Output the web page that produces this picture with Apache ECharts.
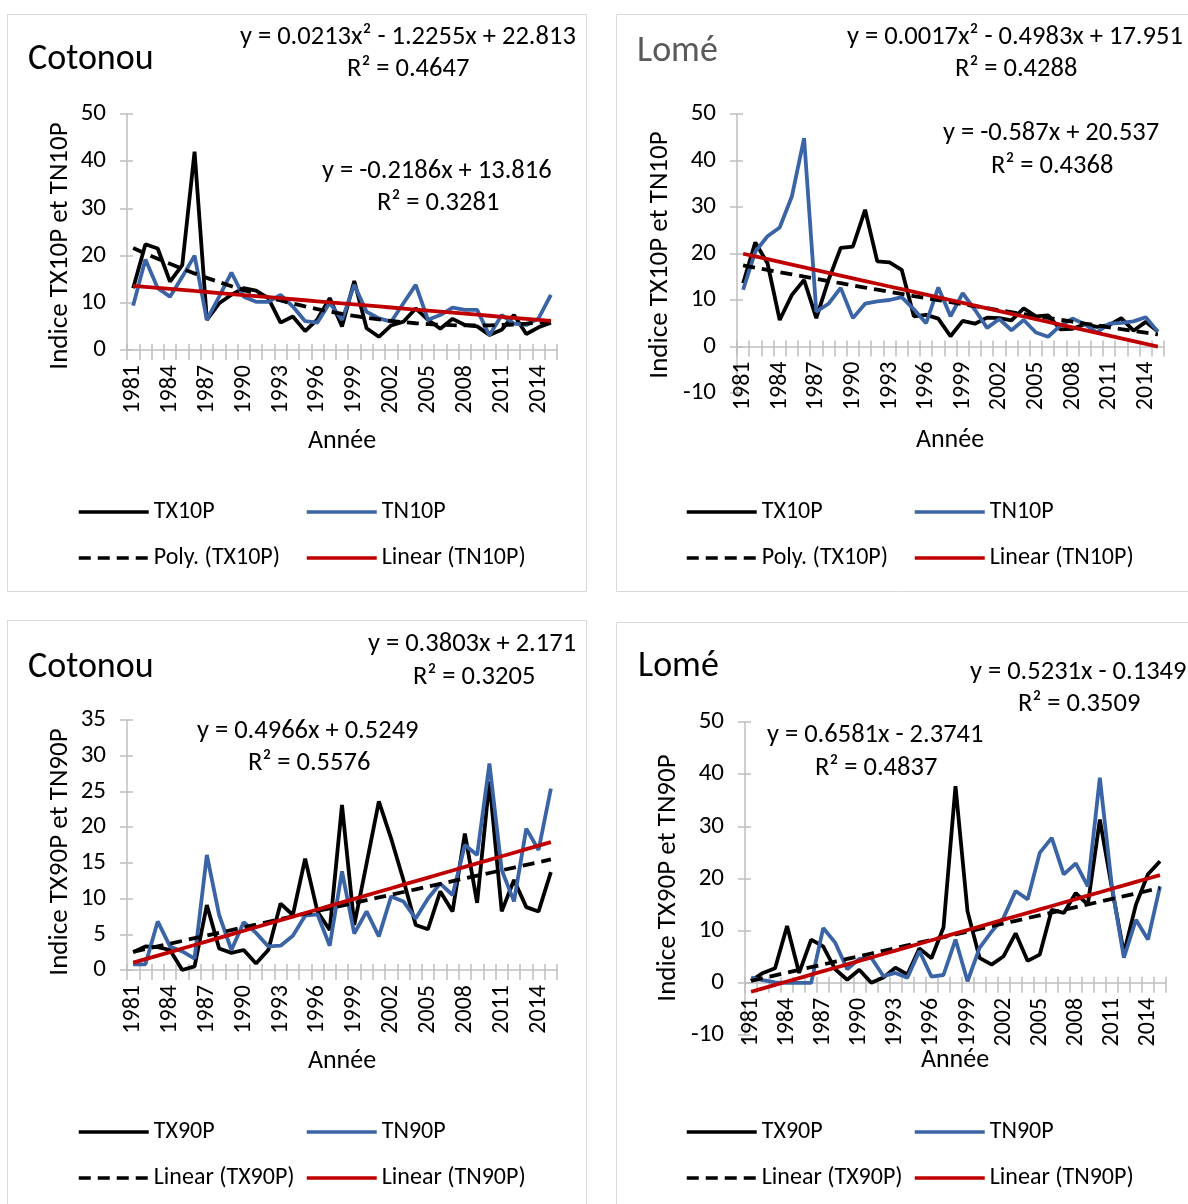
<!DOCTYPE html>
<html>
<head>
<meta charset="utf-8">
<script src="https://cdn.jsdelivr.net/npm/echarts@6/dist/echarts.min.js"></script>
<style>
html,body{margin:0;padding:0;background:#fff;}
#c{width:1188px;height:1204px;}
</style>
</head>
<body>
<div id="c"></div>
<script>
// ---------- DATA ----------
const years = ['1981','1982','1983','1984','1985','1986','1987','1988','1989','1990','1991','1992','1993','1994','1995','1996','1997','1998','1999','2000','2001','2002','2003','2004','2005','2006','2007','2008','2009','2010','2011','2012','2013','2014','2015'];

const cotonouTX10P = [13.1,22.4,21.5,14.5,18.0,42.0,6.4,9.9,11.7,13.1,12.6,11.0,5.8,7.1,4.0,6.5,11.0,5.0,14.6,4.6,2.8,5.2,6.0,8.8,6.4,4.5,6.6,5.3,5.0,3.2,4.3,7.4,3.4,4.8,5.8];
const cotonouTN10P = [9.4,19.2,13.1,11.3,15.5,20.0,6.4,11.3,16.4,11.3,10.2,10.2,11.7,9.2,6.1,5.8,10.0,6.4,13.8,8.1,6.7,6.0,9.9,13.8,6.4,7.4,9.0,8.5,8.5,3.1,7.4,5.6,5.3,6.7,11.7];
const lomeTX10P = [13.6,22.4,17.9,5.7,11.1,14.3,6.1,14.3,21.2,21.5,29.4,18.3,18.1,16.5,6.5,6.8,6.0,2.2,5.5,4.9,6.2,6.1,5.6,8.2,6.5,6.7,3.7,3.8,4.8,4.2,4.6,6.1,3.4,5.3,3.2];
const lomeTN10P = [12.2,20.4,23.7,25.6,32.3,44.8,7.5,9.2,12.6,6.1,9.2,9.7,10.0,10.6,8.0,5.0,12.7,6.5,11.5,7.9,4.0,5.9,3.5,5.7,3.0,2.1,4.5,6.0,4.8,3.0,4.9,5.1,5.4,6.3,3.2];
const cotonouTX90P = [2.5,3.3,3.2,2.8,0.0,0.5,9.1,3.0,2.4,2.8,0.9,2.8,9.3,7.7,15.6,8.2,5.6,23.1,6.3,14.9,23.6,18.4,12.6,6.3,5.7,11.0,8.2,19.1,9.4,26.4,8.2,12.6,8.8,8.2,13.7];
const cotonouTN90P = [0.8,0.8,6.8,3.3,2.6,1.6,16.1,7.7,2.8,6.7,5.2,3.3,3.4,4.8,7.6,7.8,3.4,13.8,5.1,8.2,4.7,10.3,9.6,7.2,10.0,12.1,10.5,17.5,16.1,28.9,14.0,9.6,19.8,16.8,25.4];
const lomeTX90P = [0.4,1.9,2.8,10.9,1.9,8.3,7.0,2.6,0.6,2.5,0.0,1.0,2.9,1.6,6.6,4.7,10.6,37.7,13.7,4.8,3.5,5.1,9.5,4.2,5.4,14.0,13.4,17.2,15.0,31.3,18.2,5.7,15.0,20.8,23.3];
const lomeTN90P = [1.0,0.5,0.1,0.0,0.0,0.0,10.5,7.7,2.6,4.6,4.8,1.3,1.9,1.0,6.1,1.2,1.5,8.3,0.3,6.7,9.8,12.5,17.6,16.0,24.9,27.8,20.8,22.9,18.5,39.3,18.5,4.8,12.1,8.3,18.5];

// trend line coefficients as printed (highest power first, x = 1..35)
const cotonouPolyTX10P = [0.0213, -1.2255, 22.813];
const cotonouLinTN10P = [-0.2186, 13.816];
const lomePolyTX10P = [0.0017, -0.4983, 17.951];
const lomeLinTN10P = [-0.587, 20.537];
const cotonouLinTX90P = [0.3803, 2.171];
const cotonouLinTN90P = [0.4966, 0.5249];
const lomeLinTX90P = [0.5231, -0.1349];
const lomeLinTN90P = [0.6581, -2.3741];

// y axis tick settings
const yTicks1 = {min: 0, max: 50, interval: 10};
const yTicks2 = {min: -10, max: 50, interval: 10};
const yTicks3 = {min: 0, max: 35, interval: 5};
const yTicks4 = {min: -10, max: 50, interval: 10};

// ---------- BUILD ----------
function trend(coefs) {
  return years.map((_, i) => {
    const x = i + 1;
    let v = 0;
    for (const c of coefs) v = v * x + c;
    return +v.toFixed(3);
  });
}

const FONT = 'Carlito, Lato, "Open Sans", sans-serif';
const BLUE = '#3B64A6';
const RED = '#C00000';
const AX = '#BFBFBF';
const LW = 3.8;
const DASH = [12, 7];

const grids = [
  {left: 127, top: 114, width: 430, height: 236},
  {left: 737, top: 114, width: 427, height: 279},
  {left: 127, top: 720, width: 430, height: 250},
  {left: 745, top: 722, width: 421, height: 313}
];
const yt = [yTicks1, yTicks2, yTicks3, yTicks4];
// place category axis at value 0 (moves line, ticks and labels together)
function zeroOffset(g) {
  const r = yt[g];
  return -grids[g].height * (0 - r.min) / (r.max - r.min);
}

const xAxes = [], yAxes = [];
for (let g = 0; g < 4; g++) {
  xAxes.push({
    type: 'category', gridIndex: g, data: years, boundaryGap: true, position: 'bottom', offset: zeroOffset(g),
    axisLine: {show: true, onZero: false, lineStyle: {color: AX, width: 1.5}},
    axisTick: {show: true, interval: 0, length: 10, lineStyle: {color: AX, width: 1.5}},
    axisLabel: {interval: 2, rotate: 90, margin: 15, fontSize: 24, color: '#000', fontFamily: FONT},
    splitLine: {show: false}
  });
  yAxes.push({
    type: 'value', gridIndex: g, min: yt[g].min, max: yt[g].max, interval: yt[g].interval,
    axisLine: {show: true, lineStyle: {color: AX, width: 1.5}},
    axisTick: {show: true, length: 7, lineStyle: {color: AX, width: 1.5}},
    axisLabel: {margin: 21, fontSize: 25, color: '#000', fontFamily: FONT},
    splitLine: {show: false}
  });
}
for (let g = 0; g < 4; g++) {
  xAxes.push({
    type: 'category', gridIndex: g, data: years, boundaryGap: true, position: 'bottom', offset: zeroOffset(g),
    axisLine: {show: false, onZero: false},
    axisTick: {show: true, inside: true, interval: 0, length: 6, lineStyle: {color: AX, width: 1.5}},
    axisLabel: {show: false}, splitLine: {show: false}
  });
  yAxes.push({
    type: 'value', gridIndex: g, position: 'left', min: yt[g].min, max: yt[g].max, interval: yt[g].interval,
    axisLine: {show: false},
    axisTick: {show: true, inside: true, length: 6, lineStyle: {color: AX, width: 1.5}},
    axisLabel: {show: false}, splitLine: {show: false}
  });
}

function line(name, g, data, color, dashed) {
  return {
    name: name, type: 'line', xAxisIndex: g, yAxisIndex: g, data: data,
    symbol: 'none', smooth: false, silent: true, animation: false,
    lineStyle: {color: color, width: LW, type: dashed ? DASH : 'solid'},
    itemStyle: {color: color}
  };
}

const series = [
  line('TX10P', 0, cotonouTX10P, '#000'),
  line('TN10P', 0, cotonouTN10P, BLUE),
  line('Poly. (TX10P)', 0, trend(cotonouPolyTX10P), '#000', true),
  line('Linear (TN10P)', 0, trend(cotonouLinTN10P), RED),
  line('TX10P', 1, lomeTX10P, '#000'),
  line('TN10P', 1, lomeTN10P, BLUE),
  line('Poly. (TX10P)', 1, trend(lomePolyTX10P), '#000', true),
  line('Linear (TN10P)', 1, trend(lomeLinTN10P), RED),
  line('TX90P', 2, cotonouTX90P, '#000'),
  line('TN90P', 2, cotonouTN90P, BLUE),
  line('Linear (TX90P)', 2, trend(cotonouLinTX90P), '#000', true),
  line('Linear (TN90P)', 2, trend(cotonouLinTN90P), RED),
  line('TX90P', 3, lomeTX90P, '#000'),
  line('TN90P', 3, lomeTN90P, BLUE),
  line('Linear (TX90P)', 3, trend(lomeLinTX90P), '#000', true),
  line('Linear (TN90P)', 3, trend(lomeLinTN90P), RED)
];

function leg(name, left, cy) {
  return {
    data: [name], left: left - 1, top: cy - 12, orient: 'horizontal', padding: 0,
    itemWidth: 70, itemHeight: 14, itemGap: 0, selectedMode: false,
    itemStyle: {opacity: 0},
    lineStyle: {width: 3.5},
    textStyle: {fontSize: 24, color: '#000', fontFamily: FONT, lineHeight: 26}
  };
}
const legends = [
  leg('TX10P', 78, 511), leg('TN10P', 306, 511), leg('Poly. (TX10P)', 78, 557), leg('Linear (TN10P)', 306, 557),
  leg('TX10P', 686, 511), leg('TN10P', 914, 511), leg('Poly. (TX10P)', 686, 557), leg('Linear (TN10P)', 914, 557),
  leg('TX90P', 78, 1131), leg('TN90P', 306, 1131), leg('Linear (TX90P)', 78, 1177), leg('Linear (TN90P)', 306, 1177),
  leg('TX90P', 686, 1131), leg('TN90P', 914, 1131), leg('Linear (TX90P)', 686, 1177), leg('Linear (TN90P)', 914, 1177)
];

function txt(t, x, y, size, color, rot, align) {
  return {
    type: 'text', x: x, y: y, rotation: rot || 0, silent: true,
    style: {text: t, fill: color || '#000', font: size + 'px ' + FONT,
      align: align || 'left', verticalAlign: 'middle', textAlign: align || 'left', textVerticalAlign: 'middle'}
  };
}
function box(x, y, w, h) {
  return {type: 'rect', silent: true, shape: {x: x + 0.5, y: y + 0.5, width: w, height: h},
    style: {fill: 'none', stroke: '#D9D9D9', lineWidth: 1}};
}
const EQ = 26.5;
const TT = 36;
const graphics = [
  box(7, 14, 579, 577), box(616, 14, 600, 577), box(7, 620, 579, 620), box(616, 622, 600, 620),
  txt('Cotonou', 28, 60, TT), txt('Lomé', 637, 52, TT, '#595959'),
  txt('Cotonou', 28, 668, TT), txt('Lomé', 638, 667, TT),
  txt('y = 0.0213x² - 1.2255x + 22.813', 240, 37, EQ), txt('R² = 0.4647', 347, 69, EQ),
  txt('y = -0.2186x + 13.816', 322, 171, EQ), txt('R² = 0.3281', 377, 203, EQ),
  txt('y = 0.0017x² - 0.4983x + 17.951', 847, 37, EQ), txt('R² = 0.4288', 955, 69, EQ),
  txt('y = -0.587x + 20.537', 943, 133, EQ), txt('R² = 0.4368', 991, 166, EQ),
  txt('y = 0.3803x + 2.171', 368, 644, EQ), txt('R² = 0.3205', 413, 677, EQ),
  txt('y = 0.4966x + 0.5249', 197, 731, EQ), txt('R² = 0.5576', 248, 763, EQ),
  txt('y = 0.5231x - 0.1349', 970, 672, EQ), txt('R² = 0.3509', 1018, 704, EQ),
  txt('y = 0.6581x - 2.3741', 767, 735, EQ), txt('R² = 0.4837', 815, 768, EQ),
  txt('Indice TX10P et TN10P', 60, 246, 27, '#000', Math.PI / 2, 'center'),
  txt('Indice TX10P et TN10P', 660, 255, 27, '#000', Math.PI / 2, 'center'),
  txt('Indice TX90P et TN90P', 60, 852, 27, '#000', Math.PI / 2, 'center'),
  txt('Indice TX90P et TN90P', 668, 878, 27, '#000', Math.PI / 2, 'center'),
  txt('Année', 342, 441, 26, '#000', 0, 'center'),
  txt('Année', 950, 440, 26, '#000', 0, 'center'),
  txt('Année', 342, 1061, 26, '#000', 0, 'center'),
  txt('Année', 955, 1060, 26, '#000', 0, 'center')
];

const chart = echarts.init(document.getElementById('c'), null, {renderer: 'canvas'});
chart.setOption({
  animation: false,
  backgroundColor: '#fff',
  grid: grids,
  xAxis: xAxes,
  yAxis: yAxes,
  legend: legends,
  series: series,
  graphic: graphics
});
</script>
</body>
</html>
